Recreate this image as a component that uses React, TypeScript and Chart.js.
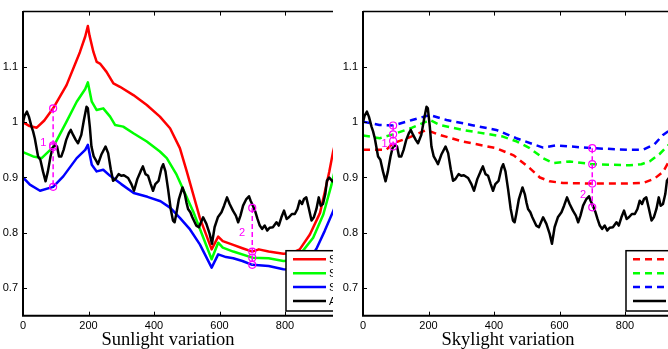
import React, { useEffect, useRef } from "react";
import { Chart, registerables } from "chart.js";

Chart.register(...registerables);

// ---------- axis ticks ----------
const xTickValues = [0, 200, 400, 600, 800, 1000];
const yTickValues = [0.7, 0.8, 0.9, 1, 1.1];

// ---------- actual (black) series, shared by both panels ----------
const actualX = [
  0, 5, 12, 18, 26, 31, 36, 46, 53, 61, 69, 76, 84, 90, 97, 104, 110, 117, 124, 132,
  140, 146, 153, 161, 168, 178, 186, 194, 198, 204, 209, 216, 222, 229, 239, 252, 260, 268, 275, 282,
  292, 300, 308, 321, 331, 339, 349, 359, 366, 374, 382, 390, 397, 404, 414, 423, 428, 435, 443, 451,
  458, 463, 468, 476, 487, 494, 499, 504, 511, 517, 529, 537, 550, 560, 570, 577, 585, 595, 606, 614,
  623, 631, 641, 650, 657, 664, 672, 682, 690, 695, 702, 710, 716, 723, 730, 738, 746, 753, 763, 774,
  781, 789, 797, 805, 812, 821, 830, 838, 845, 852, 858, 865, 872, 881, 888, 896, 903, 909, 916, 923,
  928, 935, 945, 960,
];
const actualY = [
  1.0, 1.012, 1.019, 1.01, 0.992, 0.983, 0.971, 0.938, 0.932, 0.911, 0.893, 0.911, 0.938, 0.953, 0.959, 0.956, 0.938, 0.938, 0.95, 0.968,
  0.98, 0.986, 0.977, 0.968, 0.962, 0.977, 1.004, 1.028, 1.025, 0.992, 0.956, 0.938, 0.932, 0.924, 0.941, 0.956, 0.944, 0.915, 0.894, 0.897,
  0.906, 0.903, 0.904, 0.899, 0.888, 0.876, 0.897, 0.911, 0.92, 0.906, 0.903, 0.888, 0.876, 0.888, 0.894, 0.917, 0.924, 0.911, 0.879, 0.843,
  0.822, 0.819, 0.834, 0.861, 0.882, 0.87, 0.855, 0.843, 0.837, 0.828, 0.813, 0.81, 0.828, 0.816, 0.798, 0.78, 0.81, 0.828, 0.837, 0.849,
  0.864, 0.852, 0.84, 0.831, 0.819, 0.831, 0.849, 0.861, 0.866, 0.858, 0.849, 0.837, 0.825, 0.813, 0.807, 0.813, 0.804, 0.809, 0.81, 0.819,
  0.813, 0.828, 0.84, 0.825, 0.828, 0.834, 0.834, 0.843, 0.858, 0.852, 0.861, 0.864, 0.846, 0.822, 0.828, 0.843, 0.864, 0.849, 0.852, 0.87,
  0.894, 0.9, 0.893, 0.9,
];

// ---------- sunlight variation (solid) ----------
const sun1X = [0, 20, 42, 65, 92, 133, 174, 190, 198, 203, 215, 225, 235, 255, 276, 296, 337, 378, 418, 449, 479, 500, 540, 576, 596, 610, 642, 670, 700, 720, 750, 795, 820, 845, 876, 907, 922, 935, 947, 965];
const sun1Y = [1.0, 0.993, 0.99, 1.003, 1.025, 1.067, 1.127, 1.155, 1.174, 1.157, 1.127, 1.109, 1.106, 1.091, 1.07, 1.064, 1.049, 1.031, 1.01, 0.989, 0.953, 0.911, 0.827, 0.77, 0.793, 0.785, 0.778, 0.772, 0.766, 0.77, 0.766, 0.762, 0.763, 0.77, 0.797, 0.836, 0.875, 0.91, 0.947, 0.99];

const sun2X = [0, 31, 57, 92, 133, 164, 190, 198, 210, 225, 245, 266, 281, 306, 337, 378, 418, 439, 469, 520, 576, 596, 610, 642, 700, 750, 795, 820, 845, 886, 917, 942, 955, 965];
const sun2Y = [0.946, 0.938, 0.935, 0.955, 1.001, 1.037, 1.06, 1.072, 1.037, 1.022, 1.025, 1.01, 0.995, 0.992, 0.98, 0.965, 0.947, 0.935, 0.905, 0.838, 0.752, 0.782, 0.773, 0.766, 0.755, 0.754, 0.749, 0.75, 0.76, 0.791, 0.833, 0.887, 0.92, 0.94];

const sun3X = [0, 21, 52, 92, 123, 164, 190, 198, 210, 225, 245, 266, 300, 338, 380, 420, 450, 479, 510, 540, 576, 596, 620, 642, 670, 700, 750, 795, 830, 860, 896, 921, 947, 965];
const sun3Y = [0.9, 0.887, 0.876, 0.883, 0.902, 0.935, 0.95, 0.959, 0.923, 0.911, 0.914, 0.903, 0.888, 0.872, 0.865, 0.857, 0.845, 0.827, 0.806, 0.779, 0.737, 0.761, 0.756, 0.754, 0.749, 0.742, 0.74, 0.734, 0.733, 0.74, 0.771, 0.803, 0.839, 0.865];

// ---------- skylight variation (dashed) ----------
const sky1X = [0, 71, 92, 140, 194, 234, 305, 407, 460, 509, 540, 570, 611, 700, 804, 855, 890, 916, 935, 960];
const sky1Y = [0.95, 0.95, 0.962, 0.972, 0.986, 0.977, 0.965, 0.953, 0.94, 0.917, 0.9, 0.893, 0.89, 0.889, 0.889, 0.89, 0.898, 0.91, 0.93, 0.96];

const sky2X = [0, 51, 92, 150, 204, 234, 305, 427, 470, 509, 550, 580, 631, 700, 814, 850, 875, 905, 935, 960];
const sky2Y = [0.976, 0.971, 0.978, 0.99, 1.004, 0.995, 0.986, 0.974, 0.965, 0.953, 0.935, 0.926, 0.929, 0.924, 0.922, 0.924, 0.929, 0.942, 0.96, 0.98];

const sky3X = [0, 50, 92, 150, 204, 255, 330, 407, 468, 520, 550, 590, 700, 814, 855, 890, 916, 935, 960];
const sky3Y = [1.001, 0.995, 0.994, 1.004, 1.013, 1.004, 0.995, 0.986, 0.971, 0.96, 0.954, 0.958, 0.953, 0.95, 0.95, 0.96, 0.977, 0.985, 1.0];

// ---------- magenta markers ----------
const markX = [92, 700];
const sunMark1Y = [1.025, 0.958, 0.955, 0.883];
const sunMark2Y = [0.845, 0.766, 0.755, 0.742];
const skyMark1Y = [0.994, 0.978, 0.966, 0.956];
const skyMark2Y = [0.953, 0.924, 0.889, 0.846];
const markLabels = ["1", "2"];
const sunLabelX = [62, 669];
const sunLabelY = [0.962, 0.8];
const skyLabelX = [66, 672];
const skyLabelY = [0.96, 0.868];

const sunLegend = ["Sunlight 1", "Sunlight 2", "Sunlight 3", "Actual"];
const skyLegend = ["Skylight 1", "Skylight 2", "Skylight 3", "Actual"];

const RED = "#ff0000";
const GREEN = "#00ff00";
const BLUE = "#0000ff";
const MAGENTA = "#ff00ff";
const DASH = [7, 5];

const pts = (xs: number[], ys: number[]) => xs.map((x, i) => ({ x, y: ys[i] }));

function curve(label: string, xs: number[], ys: number[], color: string, dash: number[], order: number) {
  return {
    type: "line" as const,
    label,
    data: pts(xs, ys),
    borderColor: color,
    backgroundColor: color,
    borderWidth: 2.5,
    borderDash: dash,
    borderJoinStyle: "round" as const,
    pointRadius: 0,
    tension: 0,
    fill: false,
    order,
  };
}

function vline(x: number, ys: number[]) {
  return {
    type: "line" as const,
    label: "",
    data: [
      { x, y: Math.max(...ys) },
      { x, y: Math.min(...ys) },
    ],
    borderColor: MAGENTA,
    borderWidth: 1.5,
    borderDash: [5, 3],
    pointRadius: 0,
    fill: false,
    order: 0,
  };
}

function circles(x: number, ys: number[]) {
  return {
    type: "line" as const,
    label: "",
    data: ys.map((y) => ({ x, y })),
    showLine: false,
    pointStyle: "circle" as const,
    pointRadius: 3.5,
    pointBorderWidth: 1.2,
    pointBorderColor: MAGENTA,
    pointBackgroundColor: "rgba(0,0,0,0)",
    order: 0,
  };
}

const TICK_FONT = { family: "'Liberation Sans', Arial, sans-serif", size: 11 };

function makePlugin(title: string, legendNames: string[], labelX: number[], labelY: number[]) {
  return {
    id: "matlabFrame",
    afterDatasetsDraw(chart: any) {
      const ctx = chart.ctx as CanvasRenderingContext2D;
      const { left, bottom } = chart.chartArea;
      const xs = chart.scales.x;
      const ys = chart.scales.y;
      ctx.save();
      // point labels "1", "2"
      ctx.fillStyle = MAGENTA;
      ctx.font = "11px 'Liberation Sans', Arial, sans-serif";
      ctx.textAlign = "center";
      ctx.textBaseline = "middle";
      labelX.forEach((lx, i) => {
        ctx.fillText(markLabels[i], xs.getPixelForValue(lx), ys.getPixelForValue(labelY[i]));
      });
      // legend box
      const bx = left + 263;
      const bh = 60.3;
      const by = bottom - 4.7 - bh;
      ctx.setLineDash([]);
      ctx.fillStyle = "#ffffff";
      ctx.fillRect(bx, by, 110, bh);
      ctx.strokeStyle = "#000";
      ctx.lineWidth = 1.5;
      ctx.strokeRect(bx, by, 110, bh);
      const dsets = chart.data.datasets.slice(0, 4);
      dsets.forEach((d: any, i: number) => {
        const ry = by + 8.6 + i * 13.9;
        ctx.beginPath();
        ctx.setLineDash(d.borderDash || []);
        ctx.strokeStyle = d.borderColor;
        ctx.lineWidth = 2.5;
        ctx.moveTo(bx + 7, ry);
        ctx.lineTo(bx + 40, ry);
        ctx.stroke();
        ctx.setLineDash([]);
        ctx.fillStyle = "#000";
        ctx.textAlign = "left";
        ctx.textBaseline = "middle";
        ctx.fillText(legendNames[i], bx + 43, ry + 0.5);
      });
      ctx.restore();
    },
    afterDraw(chart: any) {
      const ctx = chart.ctx as CanvasRenderingContext2D;
      const { left, right, top, bottom } = chart.chartArea;
      const xs = chart.scales.x;
      const ys = chart.scales.y;
      ctx.save();
      ctx.setLineDash([]);
      ctx.strokeStyle = "#000";
      // frame
      ctx.lineWidth = 1.5;
      ctx.beginPath();
      ctx.moveTo(left, top);
      ctx.lineTo(right, top);
      ctx.lineTo(right, bottom);
      ctx.stroke();
      ctx.lineWidth = 2;
      ctx.beginPath();
      ctx.moveTo(left, top - 0.5);
      ctx.lineTo(left, bottom);
      ctx.lineTo(right, bottom);
      ctx.stroke();
      // inward ticks
      ctx.lineWidth = 1;
      ctx.beginPath();
      xs.ticks.forEach((t: any) => {
        const px = Math.round(xs.getPixelForValue(t.value)) + 0.5;
        ctx.moveTo(px, bottom);
        ctx.lineTo(px, bottom - 4);
        ctx.moveTo(px, top);
        ctx.lineTo(px, top + 4);
      });
      ys.ticks.forEach((t: any) => {
        const py = Math.round(ys.getPixelForValue(t.value)) + 0.5;
        ctx.moveTo(left, py);
        ctx.lineTo(left + 4, py);
        ctx.moveTo(right, py);
        ctx.lineTo(right - 4, py);
      });
      ctx.stroke();
      // panel title
      ctx.fillStyle = "#000";
      ctx.font = "18.5px 'Liberation Serif', 'Times New Roman', serif";
      ctx.textAlign = "center";
      ctx.textBaseline = "alphabetic";
      ctx.fillText(title, left + 145, bottom + 29.3);
      ctx.restore();
    },
  };
}

function makeConfig(kind: "sun" | "sky"): any {
  const isSun = kind === "sun";
  const dash = isSun ? [] : DASH;
  const d1 = isSun ? curve("1", sun1X, sun1Y, RED, dash, 4) : curve("1", sky1X, sky1Y, RED, dash, 4);
  const d2 = isSun ? curve("2", sun2X, sun2Y, GREEN, dash, 3) : curve("2", sky2X, sky2Y, GREEN, dash, 3);
  const d3 = isSun ? curve("3", sun3X, sun3Y, BLUE, dash, 2) : curve("3", sky3X, sky3Y, BLUE, dash, 2);
  const d4 = curve("Actual", actualX, actualY, "#000000", [], 1);
  const m1 = isSun ? sunMark1Y : skyMark1Y;
  const m2 = isSun ? sunMark2Y : skyMark2Y;
  return {
    type: "line",
    data: {
      datasets: [d1, d2, d3, d4, vline(markX[0], m1), vline(markX[1], m2), circles(markX[0], m1), circles(markX[1], m2)],
    },
    options: {
      responsive: false,
      animation: false,
      events: [],
      layout: { padding: { left: 0, top: 10, right: 29.5, bottom: 0 } },
      plugins: { legend: { display: false }, tooltip: { enabled: false } },
      scales: {
        x: {
          type: "linear",
          min: 0,
          max: 1000,
          afterBuildTicks: (s: any) => {
            s.ticks = xTickValues.map((v) => ({ value: v }));
          },
          afterFit: (s: any) => {
            s.height = 33.3;
          },
          grid: { display: false, drawTicks: false },
          border: { display: false },
          ticks: {
            font: TICK_FONT,
            color: "#000",
            padding: 4,
            maxRotation: 0,
            autoSkip: false,
            callback: (v: any) => String(v),
          },
        },
        y: {
          type: "linear",
          min: 0.65,
          max: 1.2,
          afterBuildTicks: (s: any) => {
            s.ticks = yTickValues.map((v) => ({ value: v }));
          },
          afterFit: (s: any) => {
            s.width = 23;
          },
          grid: { display: false, drawTicks: false },
          border: { display: false },
          ticks: {
            font: TICK_FONT,
            color: "#000",
            padding: 5,
            autoSkip: false,
            callback: (v: any) => String(Math.round(Number(v) * 10) / 10),
          },
        },
      },
    },
    plugins: [
      isSun
        ? makePlugin("Sunlight variation", sunLegend, sunLabelX, sunLabelY)
        : makePlugin("Skylight variation", skyLegend, skyLabelX, skyLabelY),
    ],
  };
}

function Panel({ kind, left, width }: { kind: "sun" | "sky"; left: number; width: number }) {
  const ref = useRef<HTMLCanvasElement>(null);
  useEffect(() => {
    if (!ref.current) return;
    const chart = new Chart(ref.current, makeConfig(kind));
    return () => chart.destroy();
  }, [kind]);
  return (
    <div style={{ position: "absolute", left, top: 0, width, height: 349, overflow: "hidden" }}>
      <canvas ref={ref} width={380} height={349} style={{ display: "block" }} />
    </div>
  );
}

export default function App() {
  return (
    <div
      style={{
        position: "fixed",
        left: 0,
        top: 0,
        width: 668,
        height: 349,
        overflow: "hidden",
        background: "#ffffff",
      }}
    >
      <Panel kind="sun" left={0} width={333} />
      <Panel kind="sky" left={340} width={328} />
    </div>
  );
}
